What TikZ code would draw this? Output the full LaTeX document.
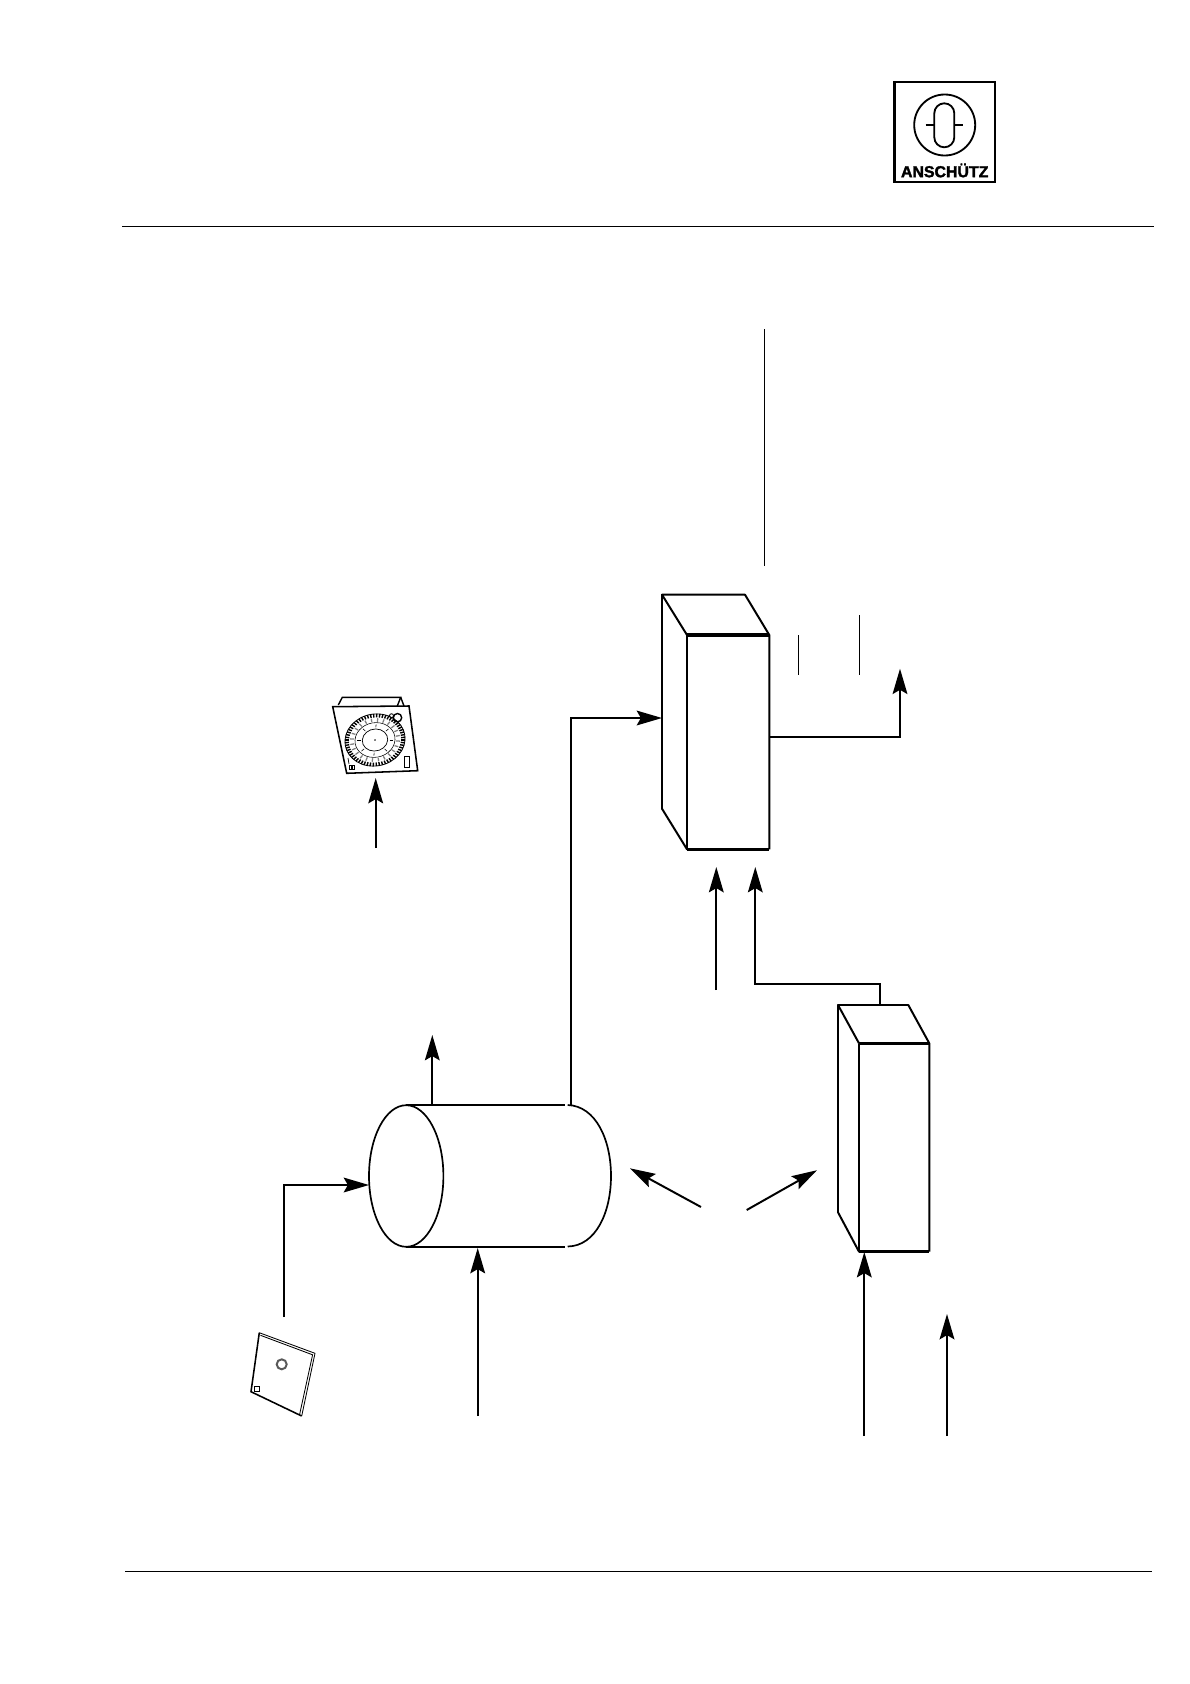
\documentclass[tikz,border=0pt]{standalone}
\usepackage{fontspec}
\newfontfamily\logofont[BoldFeatures={FakeBold=2}]{Liberation Sans}
\usetikzlibrary{arrows.meta,calc}
\tikzset{
	flow/.style={line width=1.4pt, -{Stealth[length=18pt,width=10.5pt,inset=3pt]}},
	edge/.style={line width=1.4pt, line join=round},
	heavy/.style={line width=2.3pt},
	thin rule/.style={line width=0.6pt},
	fine/.style={line width=0.6pt}
}
\begin{document}
\begin{tikzpicture}[x=0.025cm,y=-0.025cm]
	\useasboundingbox (0,0) rectangle (1190,1684);
	
	% page rules
	\coordinate (ruletopl) at (122,226);
	\coordinate (ruletopr) at (1154,226);
	\coordinate (rulebotl) at (125,1571);
	\coordinate (rulebotr) at (1152,1571);
	\draw[thin rule] (ruletopl) -- (ruletopr);
	\draw[thin rule] (rulebotl) -- (rulebotr);
	
	% logo
	\draw[line width=1.6pt] (894.5,81.7) rectangle (995,182);
	\draw[line width=1.3pt] (944.7,125) circle (30.5);
	\draw[line width=1.3pt] (934.3,113.3) arc (180:360:10) -- (954.3,137.3) arc (0:180:10) -- cycle;
	\draw[line width=1.1pt] (925.7,125) -- (934.3,125);
	\draw[line width=1.1pt] (954.3,125) -- (962.7,125);
	\node[inner sep=0pt] (logotext) at (944.7,170.5) {\logofont\bfseries\fontsize{11.3}{12}\selectfont ANSCHÜTZ};
	
	% lines above
	\coordinate (mastt) at (764,329);
	\coordinate (mastb) at (764,566);
	\coordinate (tickat) at (798.3,635);
	\coordinate (tickab) at (798.3,674.7);
	\coordinate (tickbt) at (859.3,615);
	\coordinate (tickbb) at (859.3,674.7);
	\draw[fine] (mastt) -- (mastb);
	\draw[fine] (tickat) -- (tickab);
	\draw[fine] (tickbt) -- (tickbb);
	
	% upper cabinet
	\coordinate (ca) at (662,594.7);
	\coordinate (cb) at (745,594.7);
	\coordinate (cc) at (769.3,635);
	\coordinate (cd) at (687,635);
	\coordinate (ce) at (687,849.3);
	\coordinate (cf) at (769.3,849.3);
	\coordinate (cg) at (662,808.7);
	\draw[edge] (cd) -- (ca) -- (cb) -- (cc) -- (cf);
	\draw[edge] (ca) -- (cg) -- (ce) -- (cd);
	\draw[heavy] (cd) -- (cc);
	\draw[heavy] (ce) -- (cf);
	
	% lower cabinet
	\coordinate (da) at (838,1005);
	\coordinate (db) at (908.3,1005);
	\coordinate (dc) at (929.3,1043.3);
	\coordinate (dd) at (859,1043.3);
	\coordinate (de) at (859,1251.7);
	\coordinate (df) at (929.3,1251.7);
	\coordinate (dg) at (838,1212.3);
	\draw[edge] (dd) -- (da) -- (db) -- (dc) -- (df);
	\draw[edge] (da) -- (dg) -- (de) -- (dd);
	\draw[heavy] (dd) -- (dc);
	\draw[heavy] (de) -- (df);
	
	% drum
	\coordinate (drumc) at (406.2,1176);
	\coordinate (drumt) at (406.2,1105);
	\coordinate (drumb) at (406.2,1246.5);
	\coordinate (drumtr) at (565,1105);
	\coordinate (drumbr) at (565,1246.5);
	\draw[line width=1.2pt] (drumc) ellipse (37.2 and 70.8);
	\draw[edge] (drumt) -- (drumtr);
	\draw[edge] (drumb) -- (drumbr);
	\draw[line width=1.2pt] (567.7,1105) .. controls (596,1106) and (611,1140) .. (611,1176) .. controls (611,1212) and (596,1246) .. (567.7,1246.5);
	
	% arrows
	\coordinate (inat) at (571,1105);
	\coordinate (inab) at (571,718);
	\coordinate (inac) at (662,718);
	\draw[flow] (inat) -- (inab) -- (inac);
	\coordinate (outa) at (769.3,736.7);
	\coordinate (outb) at (900,736.7);
	\coordinate (outc) at (900,668.7);
	\draw[flow] (outa) -- (outb) -- (outc);
	\draw[flow] (716.3,990) -- (716.3,867);
	\coordinate (linkb) at (880,1005);
	\coordinate (linkc) at (880,984);
	\coordinate (linkd) at (755.3,984);
	\coordinate (linke) at (755.3,867);
	\draw[flow] (linkb) -- (linkc) -- (linkd) -- (linke);
	\draw[flow] (432.3,1105) -- (432.3,1035);
	\draw[flow] (477.7,1416) -- (477.7,1248);
	\coordinate (plateb) at (284,1317);
	\coordinate (platec) at (284,1185);
	\coordinate (plated) at (369,1185);
	\draw[flow] (plateb) -- (platec) -- (plated);
	\draw[flow] (701,1207) -- (630,1168.3);
	\draw[flow] (746.7,1210) -- (817,1170.2);
	\draw[flow] (864.3,1436) -- (864.3,1252);
	\draw[flow] (947,1436) -- (947,1314);
	\draw[flow] (375.7,848) -- (375.7,778);
	
	% timer
	\draw[line width=1pt] (338.3,705) -- (342.3,697.3) -- (400.7,697.3) -- (397.3,706);
	\draw[line width=1pt] (400.7,697.3) -- (404,706);
	\draw[line width=1.1pt] (332.7,706.7) -- (409,706) -- (417.7,770.7) -- (346.7,773.3) -- cycle;
	\begin{scope}[shift={(375,740)},yscale=0.87,xslant=0.06]
		\draw[line width=0.6pt] (0,0) circle (30);
		\draw[line width=0.4pt] (0,0) circle (20);
		\draw[line width=0.5pt] (0,0) circle (12.7);
		\fill (0,0) circle (0.9);
		\foreach \ang in {0,6,...,354}
			\draw[line width=1pt] (\ang:26) -- (\ang:30);
		\foreach \ang in {3,18,...,348}
			\draw[line width=0.9pt,gray] (\ang:21) -- (\ang:25);
		\foreach \ang in {0,45,...,315}
			\draw[line width=0.4pt] (\ang:14.5) -- (\ang:18);
	\end{scope}
	\draw[line width=1pt] (397.5,717.7) circle (4.2);
	\draw[line width=0.6pt] (391.5,715.7) circle (2);
	\draw[line width=0.4pt] (404,756) rectangle (409.3,767.3);
	\draw[line width=0.4pt] (349.5,765) rectangle (354,769.5);
	\fill (350.5,766) rectangle (353,768.5);
	\draw[line width=0.5pt] (348,758) -- (349,764);
	
	% plate
	\draw[line width=1.1pt] (259.3,1332.7) -- (251,1391.7) -- (301.7,1416);
	\draw[line width=0.6pt] (259.3,1332.7) -- (315,1353.3) -- (301.7,1416);
	\draw[line width=0.6pt] (260.5,1335.3) -- (312.6,1354.8) -- (299.6,1414.5);
	\draw[line width=1.4pt,gray!70!black] (281.7,1364.3) circle (5);
	\draw[line width=0.4pt] (254.5,1386) rectangle (259.5,1391);
	
\end{tikzpicture}
\end{document}
